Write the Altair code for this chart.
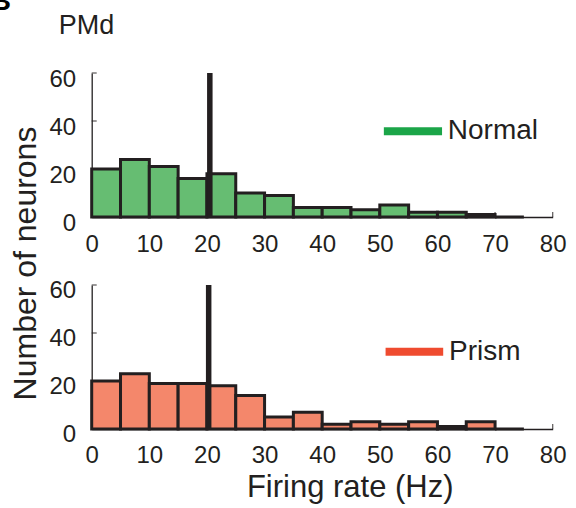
import altair as alt
import pandas as pd

# ---------------- data ----------------
bin_starts = [0, 5, 10, 15, 20, 25, 30, 35, 40, 45, 50, 55, 60, 65, 70]
bin_width = 5
normal_counts = [20, 24, 21, 16, 18, 10, 9, 4, 4, 3, 5, 2, 2, 1, 0]
prism_counts = [20, 23, 19, 19, 18, 14, 5, 7, 2, 3, 2, 3, 1, 3, 0]
normal_ref = 20.5
prism_ref = 20.3
x_ticks = [0, 10, 20, 30, 40, 50, 60, 70, 80]
y_ticks = [0, 20, 40, 60]
series_names = ["Normal", "Prism"]
panel_label = "PMd"
figure_letter = "B"
x_title = "Firing rate (Hz)"
y_title = "Number of neurons"

# ---------------- styling ----------------
INK = "#231F20"
FONT = "Liberation Sans"
W, H = 461, 144
FILLS = {"Normal": "#66BD72", "Prism": "#F4876B"}
LEGEND_COLORS = {"Normal": "#1BA548", "Prism": "#EF4B2F"}
# legend placement (data units of each panel)
LEGEND_POS = {"Normal": (50.7, 60.8, 35.7), "Prism": (51.0, 61.0, 32.2)}


def xs():
    return alt.Scale(domain=[0, 80], nice=False, zero=False)


def ys():
    return alt.Scale(domain=[0, 60], nice=False)


def panel(name, counts, ref, is_top):
    df = pd.DataFrame({
        "start": bin_starts,
        "end": [s + bin_width for s in bin_starts],
        "count": counts,
    })
    x_axis_kw = dict(values=x_ticks, ticks=False, grid=False, domainColor=INK,
                     domainWidth=1.3, labelFontSize=24, labelColor=INK, labelFont=FONT,
                     labelPadding=15, labelFlush=False, labelOverlap=False)
    y_axis_kw = dict(values=y_ticks, ticks=False, grid=False, domainColor=INK,
                     domainWidth=1.3, labelFontSize=24, labelColor=INK, labelFont=FONT,
                     labelPadding=16, labelOffset=6, labelOverlap=False)
    if is_top:
        y_axis_kw.update(titleFontSize=32, titleFont=FONT, titleColor=INK,
                         titleFontWeight="normal", titleX=-56, titleY=190,
                         titleAngle=270, titleAlign="center", titleBaseline="alphabetic")
        xt, yt = "", y_title
    else:
        x_axis_kw.update(titleFontSize=31, titleFont=FONT, titleColor=INK,
                         titleFontWeight="normal", titleX=258, titleY=68,
                         titleAlign="center", titleBaseline="alphabetic")
        xt, yt = x_title, ""
    x_axis = alt.Axis(**x_axis_kw)
    y_axis = alt.Axis(**y_axis_kw)

    def X(field):
        return alt.X(field, scale=xs(), axis=x_axis, title=xt)

    def Y(field):
        return alt.Y(field, scale=ys(), axis=y_axis, title=yt)

    ytick = alt.Chart(pd.DataFrame({"v": y_ticks})).mark_tick(
        orient="horizontal", size=5, thickness=1.3, color=INK
    ).encode(y=Y("v:Q"), x=alt.value(2.5))
    xtick = alt.Chart(pd.DataFrame({"v": x_ticks})).mark_tick(
        orient="vertical", size=5, thickness=1.3, color=INK
    ).encode(x=X("v:Q"), y=alt.value(H - 2.5))

    bars = alt.Chart(df).mark_bar(
        fill=FILLS[name], stroke=INK, strokeWidth=3, strokeJoin="miter"
    ).encode(x=X("start:Q"), x2="end:Q", y=Y("count:Q"), y2=alt.datum(0))

    rule = alt.Chart(pd.DataFrame({"ref": [ref]})).mark_rule(
        color=INK, strokeWidth=5.5
    ).encode(x=X("ref:Q"), y=alt.value(0), y2=alt.value(H))

    lx0, lx1, ly = LEGEND_POS[name]
    leg_df = pd.DataFrame({"label": [name], "x0": [lx0], "x1": [lx1], "y": [ly], "tx": [lx1 + 1.0]})
    leg_line = alt.Chart(leg_df).mark_rule(
        color=LEGEND_COLORS[name], strokeWidth=8
    ).encode(x=X("x0:Q"), x2="x1:Q", y=Y("y:Q"))
    leg_text = alt.Chart(leg_df).mark_text(
        align="left", baseline="middle", fontSize=28, font=FONT, color=INK
    ).encode(x=X("tx:Q"), y=Y("y:Q"), text="label:N")

    layers = [xtick, ytick, bars, rule, leg_line, leg_text]
    if is_top:
        pmd = alt.Chart(pd.DataFrame({"t": [panel_label]})).mark_text(
            align="left", baseline="alphabetic", fontSize=27, font=FONT, color=INK
        ).encode(x=alt.value(-33), y=alt.value(-39.5), text="t:N")
        letter = alt.Chart(pd.DataFrame({"t": [figure_letter]})).mark_text(
            align="left", baseline="alphabetic", fontSize=28, font=FONT,
            fontWeight="bold", color="#000000"
        ).encode(x=alt.value(-101), y=alt.value(-62.7), text="t:N")
        layers += [pmd, letter]
    return alt.layer(*layers).properties(width=W, height=H)


top = panel("Normal", normal_counts, normal_ref, True)
bottom = panel("Prism", prism_counts, prism_ref, False)

chart = alt.vconcat(top, bottom, spacing=68, bounds="flush").configure_view(
    stroke=None
).properties(
    padding={"left": -9.3, "top": -12, "right": 5, "bottom": 2}
)

chart.save("out.html", embed_options={"renderer": "svg", "actions": False})
